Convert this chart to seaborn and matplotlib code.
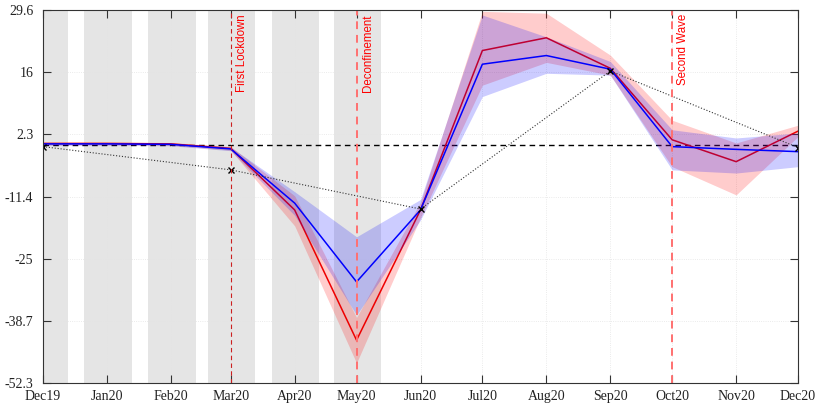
import numpy as np
import pandas as pd
import matplotlib
matplotlib.use("Agg")
import matplotlib.pyplot as plt
import seaborn as sns

months = ["2019-12-01", "2020-01-01", "2020-02-01", "2020-03-01", "2020-04-01", "2020-05-01",
          "2020-06-01", "2020-07-01", "2020-08-01", "2020-09-01", "2020-10-01", "2020-11-01",
          "2020-12-01"]
tick_labels = ["Dec19", "Jan20", "Feb20", "Mar20", "Apr20", "May20", "Jun20", "Jul20",
               "Aug20", "Sep20", "Oct20", "Nov20", "Dec20"]

red_mean = [0.3, 0.3, 0.2, -0.8, -14.3, -42.9, -14.3, 20.7, 23.5, 16.8, 1.1, -3.7, 3.0]
red_low = [0.0, 0.0, -0.1, -1.2, -17.8, -47.9, -16.0, 13.1, 18.1, 15.3, -4.8, -11.0, 1.8]
red_high = [0.6, 0.6, 0.5, -0.4, -11.2, -37.9, -12.6, 29.3, 28.9, 19.7, 5.4, 0.4, 4.3]

blue_mean = [0.2, 0.2, 0.1, -0.9, -12.8, -30.1, -14.3, 17.7, 19.6, 16.6, -0.4, -1.0, -1.5]
blue_low = [-0.1, -0.1, -0.2, -1.3, -15.5, -37.4, -16.5, 10.6, 15.7, 15.3, -5.5, -6.2, -4.8]
blue_high = [0.5, 0.5, 0.4, -0.5, -10.3, -20.2, -12.0, 28.5, 23.7, 18.3, 3.3, 1.5, 2.6]

quarter_dates = ["2019-12-01", "2020-03-01", "2020-06-01", "2020-09-01", "2020-12-01"]
quarter_values = [-0.4, -5.5, -14.1, 16.2, -0.6]

shade_periods = [("2019-12-01", "2019-12-13"), ("2019-12-21", "2020-01-13"),
                 ("2020-01-21", "2020-02-13"), ("2020-02-19", "2020-03-13"),
                 ("2020-03-21", "2020-04-13"), ("2020-04-20", "2020-05-13")]

events = [("2020-03-01", "First Lockdown"), ("2020-05-01", "Deconfinement"),
          ("2020-10-01", "Second Wave")]

yticks = [-52.3, -38.7, -25, -11.4, 2.3, 16, 29.6]
ytick_labels = ["-52.3", "-38.7", "-25", "-11.4", "2.3", "16", "29.6"]

sns.set_style("white")
plt.rcParams["font.family"] = ["Liberation Serif", "DejaVu Serif"]

dates = pd.to_datetime(months)
df_red = pd.DataFrame({"date": dates, "value": red_mean})
df_blue = pd.DataFrame({"date": dates, "value": blue_mean})
df_q = pd.DataFrame({"date": pd.to_datetime(quarter_dates), "value": quarter_values})

fig = plt.figure(figsize=(8.15, 4.05), dpi=100)
ax = fig.add_axes([43 / 815, 1 - 383 / 405, 755 / 815, 373 / 405])

for s, e in shade_periods:
    ax.axvspan(pd.Timestamp(s), pd.Timestamp(e), color="#e5e5e5", lw=0, zorder=0)

ax.axhline(0, color="black", ls=(0, (4, 3)), lw=1.0, zorder=2)

ax.fill_between(dates, red_low, red_high, color="#ff0000", alpha=0.2, lw=0, zorder=3)
sns.lineplot(data=df_red, x="date", y="value", color="#ee0000", lw=1.1, ax=ax, zorder=4)
ax.fill_between(dates, blue_low, blue_high, color="#0000ff", alpha=0.2, lw=0, zorder=5)
sns.lineplot(data=df_blue, x="date", y="value", color="#0000ff", lw=1.1, ax=ax, zorder=6)

sns.lineplot(data=df_q, x="date", y="value", color="#333333", lw=0.8, ls=":",
             marker="x", markersize=4, markeredgecolor="black", markeredgewidth=1.0,
             ax=ax, zorder=7)

for i, (d, label) in enumerate(events):
    if i == 0:
        ax.axvline(pd.Timestamp(d), color="#cc2020", ls=(0, (4, 3)), lw=0.8, zorder=8)
    else:
        ax.axvline(pd.Timestamp(d), color="#ff7070", ls=(0, (4, 3)), lw=1.4, zorder=8)
    ax.text(pd.Timestamp(d) + pd.Timedelta(days=2.5), 28.7, label, rotation=90,
            color="#ff0000", fontsize=8.3, va="top", ha="left",
            family=["Liberation Sans", "DejaVu Sans"], zorder=9)

ax.set_xlim(dates[0], dates[-1])
ax.set_ylim(-52.3, 29.6)
ax.set_xticks(dates)
ax.set_xticklabels(tick_labels)
ax.set_yticks(yticks)
ax.set_yticklabels(ytick_labels)
ax.set_xlabel("")
ax.set_ylabel("")

ax.grid(True, color="#e4e4e4", ls=":", lw=0.6)
ax.set_axisbelow(False)
for sp in ax.spines.values():
    sp.set_visible(True)
    sp.set_color("#333333")
    sp.set_linewidth(0.8)
    sp.set_zorder(10)
ax.tick_params(axis="both", direction="in", length=5.5, width=0.8, color="#333333",
               labelsize=10, labelcolor="#222222", top=True, right=True,
               left=True, bottom=True)
ax.tick_params(axis="x", pad=5)
ax.tick_params(axis="y", pad=7)

fig.savefig("out.png", dpi=100)
